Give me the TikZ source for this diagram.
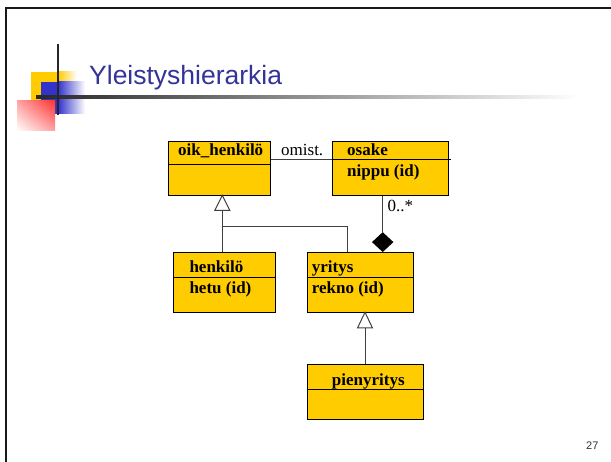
\documentclass[tikz,border=0pt]{standalone}
\usepackage{fontspec}
\usetikzlibrary{shadings,shapes.geometric}
\setmainfont{Liberation Serif}
\newfontfamily\arialfont{Liberation Sans}
\definecolor{classyellow}{HTML}{FFCC00}
\definecolor{titleblue}{HTML}{333399}
\definecolor{logoblue}{HTML}{3333CC}
\definecolor{logored}{HTML}{FF3333}
\begin{document}
\begin{tikzpicture}[x=1pt,y=-1pt,
  classbox/.style={draw=black, line width=1pt, fill=classyellow, inner sep=0pt, anchor=north west},
  lbl/.style={font=\fontsize{17}{20}\selectfont\bfseries, inner sep=0pt, anchor=base west},
  plainlbl/.style={font=\fontsize{17}{20}\selectfont, inner sep=0pt, anchor=base west},
  conn/.style={line width=1pt, draw=black!75},
  divline/.style={line width=1pt, draw=black}]
\useasboundingbox (0,0) rectangle (611,462);
\clip (0,0) rectangle (611,462);
% slide frame
\draw[line width=2.5pt, black!90] (6,8) rectangle (640,490);
% logo
\fill[classyellow] (31,72) rectangle (58,101);
\shade[left color=classyellow, right color=white] (58,72) rectangle (77,101);
\fill[logoblue] (41,82) rectangle (58,114);
\shade[left color=logoblue, right color=white] (58,82) rectangle (85,114);
\shade[upper left=logored!45!white, upper right=logored, lower left=white, lower right=logored!45!white] (17,101) rectangle (55,131);
\shade[left color=black!85, middle color=black!60, right color=white] (36,95.5) rectangle (580,98.5);
\draw[line width=2pt, black!85] (58,44) -- (58,115);
\node[anchor=base west, font=\arialfont\fontsize{26.5}{30}\selectfont, text=titleblue, inner sep=0pt] (title) at (89,85) {Yleistyshierarkia};
% classes
\node[classbox, minimum width=101.7pt, minimum height=54.6pt] (oik) at (168.3,140.7) {};
\node[classbox, minimum width=116.6pt, minimum height=54.6pt] (osake) at (331.7,140.7) {};
\node[classbox, minimum width=101.7pt, minimum height=60pt] (henk) at (173.3,252.3) {};
\node[classbox, minimum width=106pt, minimum height=60pt] (yrit) at (306.7,252.3) {};
\node[classbox, minimum width=116.6pt, minimum height=55pt] (pieni) at (306.7,364.3) {};
% dividers
\draw[divline] ([yshift=-23.6pt]oik.north west) -- ([yshift=-23.6pt]oik.north east);
\draw[divline] ([yshift=-19.3pt]osake.north west) -- ([yshift=-19.3pt,xshift=2pt]osake.north east);
\draw[divline] ([yshift=-25pt]henk.north west) -- ([yshift=-25pt]henk.north east);
\draw[divline] ([yshift=-25pt]yrit.north west) -- ([yshift=-25pt]yrit.north east);
\draw[divline] ([yshift=-25pt]pieni.north west) -- ([yshift=-25pt]pieni.north east);
% labels
\node[lbl] (oikname) at (178,156) {oik\_henkilö};
\node[lbl] (osakename) at (347,155.7) {osake};
\node[lbl] (osakeattr) at (347,176.7) {nippu (id)};
\node[lbl] (henkname) at (189.3,272.7) {henkilö};
\node[lbl] (henkattr) at (189.3,293.3) {hetu (id)};
\node[lbl] (yritname) at (311.7,272.7) {yritys};
\node[lbl] (yritattr) at (311.7,293.3) {rekno (id)};
\node[lbl] (pieniname) at (331.7,386) {pienyritys};
% association
\coordinate (omy) at (300,160);
\draw[conn] (oik.east |- omy) -- (osake.west |- omy);
\node[plainlbl] (omist) at (281,156) {omist.};
% generalization oik_henkilo
\coordinate (g1) at (222.3,195.3);
\coordinate (g1b) at (222.3,210.3);
\coordinate (ybr) at (347.3,226.7);
\draw[conn] (g1b) -- (g1b |- henk.north);
\draw[conn] (g1b |- ybr) -- (ybr) -- (ybr |- yrit.north);
\draw[conn, fill=white] (g1) -- ++(7.5,15) -- ++(-15,0) -- cycle;
% composition
\node[diamond, fill=black, minimum width=21.6pt, minimum height=20pt, inner sep=0pt, anchor=south] (dia) at (382.7,252.3) {};
\draw[conn] (dia.north |- osake.south) -- (dia.north);
\node[plainlbl] (mult) at (387.3,211.7) {0..*};
% generalization yritys
\coordinate (g2) at (365,312.3);
\coordinate (g2b) at (365,328);
\draw[conn] (g2b) -- (g2b |- pieni.north);
\draw[conn, fill=white] (g2) -- ++(7.5,15.7) -- ++(-15,0) -- cycle;
% page number
\node[anchor=base west, font=\arialfont\fontsize{11}{13}\selectfont, text=black!80, inner sep=0pt] (pnum) at (586,449.3) {27};
\end{tikzpicture}
\end{document}
